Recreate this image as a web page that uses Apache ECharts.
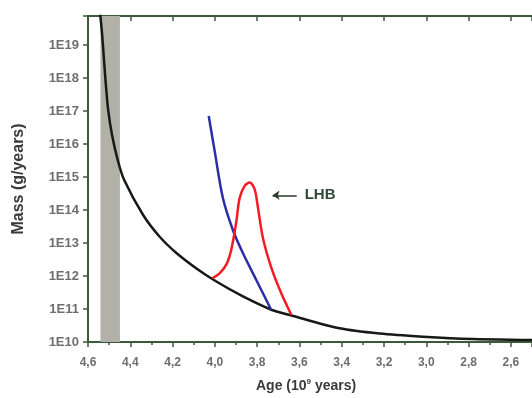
<!DOCTYPE html>
<html>
<head>
<meta charset="utf-8">
<script src="https://cdn.jsdelivr.net/npm/echarts@6/dist/echarts.min.js"></script>
<style>
html,body{margin:0;padding:0;background:#fff;}
#chart{width:532px;height:398px;}
</style>
</head>
<body>
<div id="chart"></div>
<script>
// Black curve: age (Gyr) and mass (g/years)
const blackAge  = [4.547, 4.5414, 4.5329, 4.5243, 4.5154, 4.5045, 4.4865, 4.4596, 4.4288, 4.340, 4.261, 4.182, 4.087, 3.993, 3.867, 3.733, 3.646, 3.410, 3.221, 3.016, 2.780, 2.512, 2.49];
const blackMass = [2.3e20, 7.6e19, 2.0e19, 3.5e18, 6.1e17, 1.07e17, 1.9e16, 3.3e15, 8.1e14, 7.2e13, 1.55e13, 5.0e12, 1.7e12, 6.8e11, 2.4e11, 9.5e10, 6.6e10, 2.6e10, 1.8e10, 1.45e10, 1.23e10, 1.15e10, 1.14e10];
// Blue curve
const blueAge  = [4.029, 4.001, 3.962, 3.914, 3.867, 3.804, 3.733];
const blueMass = [7.1e16, 6.2e15, 2.3e14, 2.4e13, 4.9e12, 7.6e11, 9.3e10];
// Red curve (LHB)
const redAge  = [4.012, 3.978, 3.946, 3.927, 3.914, 3.898, 3.883, 3.859, 3.835, 3.812, 3.796, 3.773, 3.733, 3.686, 3.638];
const redMass = [8.5e11, 1.2e12, 2.2e12, 4.8e12, 1.15e13, 4.7e13, 2.3e14, 5.4e14, 6.8e14, 4.3e14, 1.17e14, 1.45e13, 1.8e12, 3.0e11, 6.6e10];
// Shaded band (age range)
const bandAge = [4.541, 4.449];
// Annotation
const lhbLabel = 'LHB';
const lhbArrowAge = [3.613, 3.727];
const lhbArrowMass = 2.8e14;
// Axes
const xMin = 2.5, xMax = 4.6, xSplit = 10;
const yMin = 1e10, yMax = 7.6e19;
const yAxisTitle = 'Mass (g/years)';

const pairs = (a, b) => a.map((v, i) => [v, b[i]]);

const axisColor = '#3b5a3b';
const labelColor = '#6e6e6e';
const font = 'Arial, "Liberation Sans", sans-serif';

const chart = echarts.init(document.getElementById('chart'), null, {renderer: 'canvas'});
chart.setOption({
  animation: false,
  backgroundColor: '#ffffff',
  grid: {left: 88, top: 16, bottom: 56, right: 0, containLabel: false},
  xAxis: [{
    type: 'value', inverse: true, min: xMin, max: xMax, splitNumber: xSplit,
    position: 'bottom',
    axisLine: {show: true, onZero: false, lineStyle: {color: axisColor, width: 2}},
    axisTick: {show: true, inside: false, length: 5, lineStyle: {color: axisColor, width: 1.5}},
    minorTick: {show: true, splitNumber: 2, length: 3, lineStyle: {color: axisColor, width: 1.5}},
    splitLine: {show: false},
    axisLabel: {color: labelColor, fontSize: 12, fontWeight: 'bold', fontFamily: font, margin: 15,
      showMinLabel: false,
      formatter: v => v.toFixed(1).replace('.', ',')}
  }, {
    type: 'value', inverse: true, min: xMin, max: xMax, splitNumber: xSplit,
    position: 'top',
    axisLine: {show: true, onZero: false, lineStyle: {color: axisColor, width: 2}},
    axisTick: {show: true, inside: true, length: 5, lineStyle: {color: axisColor, width: 1.5}},
    splitLine: {show: false},
    axisLabel: {show: false}
  }],
  yAxis: {
    type: 'log', logBase: 10, min: yMin, max: yMax,
    name: yAxisTitle, nameLocation: 'middle', nameGap: 61, nameRotate: 90,
    nameTextStyle: {color: '#3a3a3a', fontSize: 16, fontWeight: 'bold', fontFamily: font},
    axisLine: {show: true, lineStyle: {color: axisColor, width: 2}},
    axisTick: {show: true, inside: false, length: 5, lineStyle: {color: axisColor, width: 1.5}},
    splitLine: {show: false},
    axisLabel: {color: labelColor, fontSize: 13, fontWeight: 'bold', fontFamily: font, margin: 9,
      formatter: v => {
        const e = Math.log10(v);
        return Math.abs(e - Math.round(e)) < 1e-6 ? '1E' + Math.round(e) : '';
      }}
  },
  graphic: [{
    type: 'text', left: 256, top: 378,
    style: {
      text: 'Age (10{sup|9} years)',
      fill: '#3a3a3a', font: 'bold 14px ' + font,
      rich: {sup: {fontSize: 8, fontWeight: 'bold', fill: '#3a3a3a', verticalAlign: 'top', padding: [0, 0, 8, 0]}}
    }
  }],
  series: [{
    type: 'line', name: 'band', data: [], silent: true,
    markArea: {silent: true, itemStyle: {color: '#b1b1a7'},
      data: [[{xAxis: bandAge[0]}, {xAxis: bandAge[1]}]]}
  }, {
    type: 'line', name: 'black', data: pairs(blackAge, blackMass), smooth: 0.3,
    symbol: 'none', lineStyle: {color: '#151a15', width: 2.5}, clip: true
  }, {
    type: 'line', name: 'blue', data: pairs(blueAge, blueMass), smooth: 0.3,
    symbol: 'none', lineStyle: {color: '#2b2fa6', width: 2.5}, clip: true
  }, {
    type: 'line', name: 'red', data: pairs(redAge, redMass), smooth: 0.3,
    symbol: 'none', lineStyle: {color: '#f41c24', width: 2.5}, clip: true,
    markLine: {
      silent: true, symbol: ['none', 'arrow'], symbolSize: 7,
      lineStyle: {color: '#2a3a2a', width: 1.5, type: 'solid'},
      label: {show: true, position: 'start', formatter: lhbLabel, color: '#2f4a3a',
        fontSize: 15, fontWeight: 'bold', fontFamily: font, distance: 8},
      data: [[{coord: [lhbArrowAge[0], lhbArrowMass]}, {coord: [lhbArrowAge[1], lhbArrowMass]}]]
    }
  }]
});
</script>
</body>
</html>
